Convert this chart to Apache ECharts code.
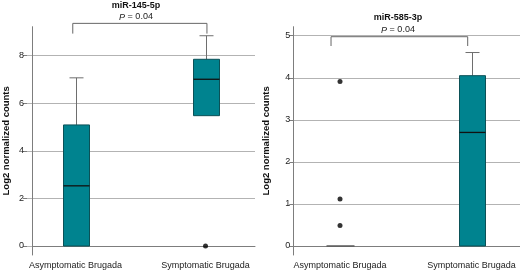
<!DOCTYPE html>
<html>
<head>
<meta charset="utf-8">
<script src="https://cdn.jsdelivr.net/npm/echarts@6/dist/echarts.min.js"></script>
<style>
  html, body { margin: 0; padding: 0; background: #fff; }
  #chart { width: 520px; height: 271px; }
</style>
</head>
<body>
<div id="chart"></div>
<script>
const categories = ['Asymptomatic Brugada', 'Symptomatic Brugada']
const titles = ['miR-145-5p', 'miR-585-3p']
const pValues = ['0.04', '0.04']

// box stats: [min, Q1, median, Q3, max]
const box145 = [[0, 0, 2.53, 5.09, 7.07], [5.48, 5.48, 7.01, 7.85, 8.84]]
const box585 = [[0, 0, 0, 0, 0], [0, 0, 2.70, 4.05, 4.60]]
// outliers: [category index, value]
const out145 = [[1, 0]]
const out585 = [[0, 3.91], [0, 1.12], [0, 0.49]]
// tick labels
const ticks145 = [0, 2, 4, 6, 8]
const ticks585 = [0, 1, 2, 3, 4, 5]

// layout of each panel (pixels), kept apart from the data
// bx: bracket legs as a fraction of the frame width, by: [leg bottom, bracket top]
const panels = [
  { frameL: 27, frameR: 265, gridTop: 55.7, yExt: [-0.378, 9.22], boxL: 75.5, boxR: 314.5,
    box: box145, out: out145, ticks: ticks145,
    bx: [0.181, 0.784], by: [8.93, 9.36], tx: 136, ty: 5.5, py: 17 },
  { frameL: 293.3, frameR: 0, gridTop: 35.7, yExt: [-0.214, 5.214], boxL: 340, boxR: 48.5,
    box: box585, out: out585, ticks: ticks585,
    bx: [0.1664, 0.7693], by: [4.755, 4.976], tx: 398, ty: 18, py: 30 }
]

const TEAL = '#00838f'
const GRID = '#b3b3b3'
const AXIS = '#7d7d7d'
const WHISK = '#6e6e6e'

const renderBox = (params, api) => {
  const x = api.value(0)
  const lo = api.coord([x, api.value(1)])
  const q1 = api.coord([x, api.value(2)])
  const md = api.coord([x, api.value(3)])
  const q3 = api.coord([x, api.value(4)])
  const hi = api.coord([x, api.value(5)])
  const cx = Math.round(md[0]) + 0.5
  const hw = 13, cw = 7
  const kids = []
  const ln = (x1, y1, x2, y2, c, w) => ({
    type: 'line', shape: { x1, y1, x2, y2 }, style: { stroke: c, lineWidth: w || 1 }
  })
  if (hi[1] < q3[1] - 0.5) {
    kids.push(ln(cx, q3[1], cx, hi[1], WHISK))
    kids.push(ln(cx - cw, hi[1], cx + cw, hi[1], WHISK))
  }
  if (lo[1] > q1[1] + 0.5) {
    kids.push(ln(cx, q1[1], cx, lo[1], WHISK))
    kids.push(ln(cx - cw, lo[1], cx + cw, lo[1], WHISK))
  }
  if (q1[1] - q3[1] > 0.5) {
    kids.push({
      type: 'rect',
      shape: { x: cx - hw, y: q3[1], width: hw * 2, height: q1[1] - q3[1] },
      style: { fill: TEAL, stroke: '#0b5157', lineWidth: 1 }
    })
    kids.push(ln(cx - hw, md[1], cx + hw, md[1], '#111', 1.3))
  } else {
    kids.push(ln(cx - hw - 1, md[1], cx + hw + 1, md[1], '#5a5a5a', 1.5))
  }
  return { type: 'group', children: kids }
}

const grid = [], xAxis = [], yAxis = [], series = [], graphic = []

panels.forEach((p, i) => {
  const g = i * 3
  const xa = i * 3
  // frame: axis lines
  grid.push({ left: p.frameL, right: p.frameR, top: 26.7, bottom: 16 })
  // gridlines + tick labels
  grid.push({ left: p.frameL, right: p.frameR, top: p.gridTop, bottom: 25 })
  // boxes
  grid.push({ left: p.boxL, right: p.boxR, top: 26.7, bottom: 16 })

  xAxis.push({
    gridIndex: g, type: 'value', min: 0, max: 1,
    axisLine: { show: true, lineStyle: { color: AXIS } },
    axisTick: { show: false }, axisLabel: { show: false }, splitLine: { show: false }
  })
  xAxis.push({ gridIndex: g + 1, type: 'value', min: 0, max: 1, show: false })
  xAxis.push({
    gridIndex: g + 2, type: 'category', data: categories, boundaryGap: false,
    axisLine: { show: false }, axisTick: { show: false },
    axisLabel: { show: true, interval: 0, margin: 6, fontSize: 9, color: '#222', fontFamily: 'Liberation Sans' }
  })

  yAxis.push({
    gridIndex: g, type: 'value', min: p.yExt[0], max: p.yExt[1],
    axisLine: { show: true, lineStyle: { color: AXIS } },
    axisTick: { show: false }, axisLabel: { show: false }, splitLine: { show: false },
    name: 'Log2 normalized counts', nameLocation: 'middle', nameGap: 21.5,
    nameTextStyle: { fontSize: 9.5, fontWeight: 'bold', color: '#111', fontFamily: 'Liberation Sans' }
  })
  yAxis.push({
    gridIndex: g + 1, type: 'value',
    min: p.ticks[0], max: p.ticks[p.ticks.length - 1], interval: p.ticks[1] - p.ticks[0],
    axisLine: { show: false },
    axisTick: { show: true, length: 4, lineStyle: { color: AXIS } },
    axisLabel: { margin: 3, fontSize: 9, color: '#222', fontFamily: 'Liberation Sans' },
    splitLine: { show: true, lineStyle: { color: GRID, width: 1 } }
  })
  yAxis.push({ gridIndex: g + 2, type: 'value', min: p.yExt[0], max: p.yExt[1], show: false })

  series.push({
    type: 'custom', xAxisIndex: xa + 2, yAxisIndex: g + 2,
    renderItem: renderBox, encode: { x: 0, y: [1, 2, 3, 4, 5] },
    data: p.box.map((b, k) => [k].concat(b)), z: 3
  })
  series.push({
    type: 'scatter', xAxisIndex: xa + 2, yAxisIndex: g + 2,
    symbol: 'circle', symbolSize: 5, itemStyle: { color: '#000' },
    data: p.out, z: 4
  })
  // significance bracket, drawn on the frame axes
  series.push({
    type: 'line', xAxisIndex: xa, yAxisIndex: g, clip: false,
    symbol: 'none', lineStyle: { color: '#666', width: 1 }, silent: true,
    data: [[p.bx[0], p.by[0]], [p.bx[0], p.by[1]], [p.bx[1], p.by[1]], [p.bx[1], p.by[0]]]
  })

  graphic.push({
    type: 'text', x: p.tx, y: p.ty,
    style: {
      text: titles[i], align: 'center', verticalAlign: 'middle',
      font: 'bold 9px "Liberation Sans"', fill: '#111'
    }
  })
  graphic.push({
    type: 'text', x: p.tx, y: p.py,
    style: {
      text: '{i|P} = ' + pValues[i], align: 'center', verticalAlign: 'middle',
      font: '9px "Liberation Sans"', fill: '#222',
      rich: { i: { fontStyle: 'italic', fontSize: 9, fontFamily: 'Liberation Sans', fill: '#222' } }
    }
  })
})

const chart = echarts.init(document.getElementById('chart'))
chart.setOption({
  animation: false,
  backgroundColor: '#fff',
  grid, xAxis, yAxis, series, graphic
})
</script>
</body>
</html>
